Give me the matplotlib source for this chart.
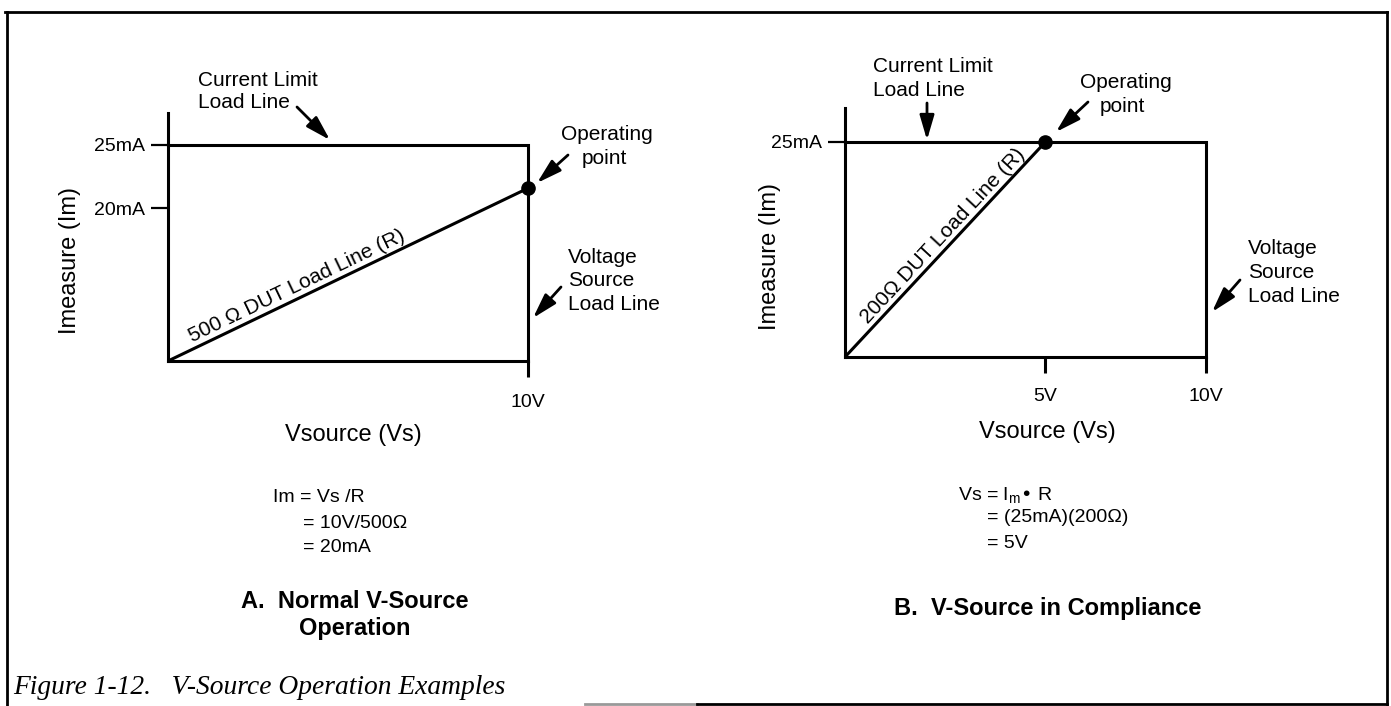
import numpy as np
import matplotlib
matplotlib.use("Agg")
import matplotlib.pyplot as plt
from matplotlib.lines import Line2D

plt.rcParams["font.family"] = ["Liberation Sans", "DejaVu Sans"]
plt.rcParams["mathtext.default"] = "regular"

W, H = 1391, 706

# A. normal V-source operation (500 ohm DUT)
a_vs = [0, 10]
a_im = [0, 20]
a_limit_ma = 25
a_source_v = 10
a_yticks = [17.7, 25]
a_ytick_labels = ["20mA", "25mA"]
a_xticks = [10]
a_xtick_labels = ["10V"]

# B. V-source in compliance (200 ohm DUT)
b_vs = [0, 5.55]
b_im = [0, 25]
b_limit_ma = 25
b_source_v = 10
b_yticks = [25]
b_ytick_labels = ["25mA"]
b_xticks = [5.55, 10]
b_xtick_labels = ["5V", "10V"]

fig = plt.figure(figsize=(W / 100, H / 100), dpi=100)


def fp(x, y):
    # pixel position (y down) -> figure fraction
    return (x / W, 1 - y / H)


def rect(x0, y0, x1, y1):
    return [x0 / W, 1 - y1 / H, (x1 - x0) / W, (y1 - y0) / H]


def label(x, y, s, ha="left", **kw):
    kw.setdefault("fontsize", 15)
    fig.text(x / W, 1 - y / H, s, ha=ha, va="center", **kw)


def arrow(tail, tip):
    fig.add_artist(plt.Annotation(
        "", xy=fp(*tip), xytext=fp(*tail), xycoords="figure fraction",
        arrowprops=dict(arrowstyle="-|>,head_length=0.75,head_width=0.22",
                        color="k", lw=2, shrinkA=0, shrinkB=0,
                        mutation_scale=20)))


def panel(r, vs, im, limit, source, yt, ytl, xt, xtl, ytop, xpad, line_text, text_x):
    ax = fig.add_axes(r)
    ax.set_xlim(0, 10)
    ax.set_ylim(0, 25)
    ax.patch.set_visible(False)
    ax.spines["top"].set_visible(False)
    ax.spines["right"].set_visible(False)
    ax.spines["left"].set_bounds(0, ytop)
    ax.spines["bottom"].set_bounds(0, source)
    for s in ["left", "bottom"]:
        ax.spines[s].set_linewidth(2.2)
    ax.set_yticks(yt, ytl)
    ax.set_xticks(xt, xtl)
    ax.tick_params(axis="y", length=12.5, width=1.6, pad=4, labelsize=14)
    ax.tick_params(axis="x", length=11.5, width=2.2, pad=xpad, labelsize=14)
    ax.plot([0, source, source], [limit, limit, 0], color="k", lw=2.2,
            clip_on=False, solid_joinstyle="miter")
    ax.plot(vs, im, color="k", lw=2.2, clip_on=False, solid_capstyle="butt")
    ax.plot(vs[-1], im[-1], "o", color="k", ms=9.5, clip_on=False)
    p0, p1 = ax.transData.transform([(vs[0], im[0]), (vs[-1], im[-1])])
    ang = np.degrees(np.arctan2(p1[1] - p0[1], p1[0] - p0[0]))
    ax.annotate(line_text, (text_x, im[-1] / vs[-1] * text_x),
                xytext=(0, 1.5), textcoords="offset points",
                rotation=ang, rotation_mode="anchor",
                ha="center", va="bottom", fontsize=15)
    return ax


panel(rect(168, 145, 528, 361), a_vs, a_im, a_limit_ma, a_source_v,
      a_yticks, a_ytick_labels, a_xticks, a_xtick_labels, 28.7, 12,
      "500 Ω DUT Load Line (R)", 3.69)
panel(rect(845, 142, 1206, 357), b_vs, b_im, b_limit_ma, b_source_v,
      b_yticks, b_ytick_labels, b_xticks, b_xtick_labels, 28.9, 10.5,
      "200Ω DUT Load Line (R)", 2.9)

# axis titles
fig.text(70 / W, 1 - 260 / H, "Imeasure (Im)", rotation=90, ha="center", va="center", fontsize=17)
fig.text(770 / W, 1 - 256 / H, "Imeasure (Im)", rotation=90, ha="center", va="center", fontsize=17)
label(353, 435, "Vsource (Vs)", ha="center", fontsize=17)
label(1047, 432, "Vsource (Vs)", ha="center", fontsize=17)

# callouts, panel A
label(198, 80, "Current Limit")
label(198, 103, "Load Line")
arrow((297, 107), (330, 140))
label(607, 135, "Operating", ha="center")
label(604, 158, "point", ha="center")
arrow((568, 155), (537, 183))
label(568, 257, "Voltage")
label(568, 280, "Source")
label(568, 304, "Load Line")
arrow((561, 287), (533, 318))

# callouts, panel B
label(873, 67, "Current Limit")
label(873, 91, "Load Line")
arrow((927, 103), (927, 140))
label(1126, 83, "Operating", ha="center")
label(1122, 107, "point", ha="center")
arrow((1088, 102), (1056, 132))
label(1248, 248, "Voltage")
label(1248, 273, "Source")
label(1248, 297, "Load Line")
arrow((1240, 280), (1212, 312))

# formulas
label(273, 498, "Im = Vs /R", fontsize=14)
label(303, 523, "= 10V/500Ω", fontsize=14)
label(303, 548, "= 20mA", fontsize=14)
label(958, 495, "Vs = I$_{m}$• R", fontsize=14)
label(987, 518, "= (25mA)(200Ω)", fontsize=14)
label(987, 543, "= 5V", fontsize=14)

# panel captions
label(355, 602, "A.  Normal V-Source", ha="center", fontsize=17, fontweight="bold")
label(355, 628, "Operation", ha="center", fontsize=17, fontweight="bold")
label(1048, 609, "B.  V-Source in Compliance", ha="center", fontsize=17, fontweight="bold")

# figure frame and caption
for xs, ys, c in [([5, 1387], [12, 12], "k"), ([7, 7], [12, 706], "k"),
                  ([1387, 1387], [12, 704], "k"), ([585, 697], [704, 704], "0.6"),
                  ([697, 1387], [704, 704], "k")]:
    fig.add_artist(Line2D([x / W for x in xs], [1 - y / H for y in ys],
                          transform=fig.transFigure, color=c, lw=2.0))
fig.text(13 / W, 1 - 687 / H, "Figure 1-12.   V-Source Operation Examples",
         ha="left", va="center", fontsize=19.8, style="italic",
         family=["Liberation Serif", "DejaVu Serif"])

fig.savefig("out.png", dpi=100)
